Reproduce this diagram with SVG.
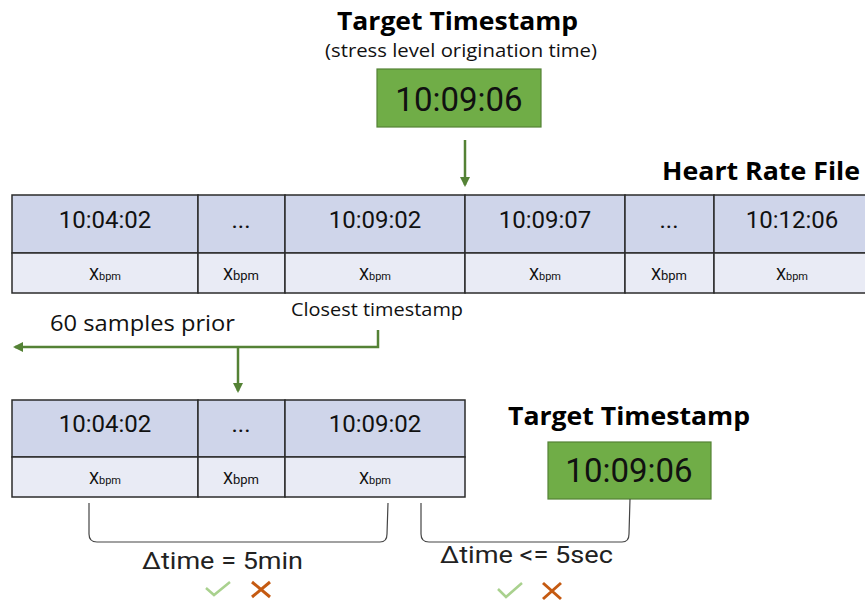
<svg xmlns="http://www.w3.org/2000/svg" width="865" height="605" viewBox="0 0 865 605">
<style>
.hdr{font-family:"Open Sans","Liberation Sans",sans-serif;font-weight:bold;font-size:25px;fill:#000}
.cal{font-family:"Open Sans","Liberation Sans",sans-serif;fill:#111}
.ts{font-family:Roboto,"Liberation Sans",sans-serif;font-size:24px;fill:#111;text-anchor:middle}
.big{font-family:Roboto,"Liberation Sans",sans-serif;font-size:33px;fill:#111;text-anchor:middle}
.x{font-family:Roboto,"Liberation Sans",sans-serif;font-size:16px;fill:#111;text-anchor:middle}
.xs{font-size:11px}
.top{fill:#CFD5EA;stroke:#2b2b2b;stroke-width:1.5}
.bot{fill:#E9EBF5;stroke:#2b2b2b;stroke-width:1.5}
.gbox{fill:#70AD47;stroke:#548235;stroke-width:1.2}
.conn{fill:none;stroke:#548235;stroke-width:2.5}
.br{fill:none;stroke:#444;stroke-width:1.2}
.dt{font-family:Roboto,"Liberation Sans",sans-serif;font-size:24px;fill:#222}
.ok{fill:none;stroke:#A9D18E;stroke-width:2.5}
.no{fill:none;stroke:#C55A11;stroke-width:3}
</style>
<defs>
<marker id="ah" viewBox="0 0 10 10" refX="8" refY="5" markerWidth="4" markerHeight="4" orient="auto-start-reverse" markerUnits="strokeWidth">
<path d="M0,0 L10,5 L0,10 z" fill="#548235"/>
</marker>
</defs>
<rect width="865" height="605" fill="#fff"/>

<g id="target-top">
<text class="hdr" x="337" y="30" textLength="241" lengthAdjust="spacingAndGlyphs">Target Timestamp</text>
<text class="cal" x="325" y="57" font-size="18.5" textLength="272" lengthAdjust="spacingAndGlyphs">(stress level origination time)</text>
<rect class="gbox" x="377" y="69" width="164" height="58"/>
<text class="big" x="459" y="111">10:09:06</text>
</g>

<g id="heart-rate-file">
<text class="hdr" x="662" y="180" textLength="198" lengthAdjust="spacingAndGlyphs">Heart Rate File</text>
<rect class="top" x="12" y="195" width="186" height="58"/>
<rect class="top" x="198" y="195" width="87" height="58"/>
<rect class="top" x="285" y="195" width="180" height="58"/>
<rect class="top" x="465" y="195" width="160" height="58"/>
<rect class="top" x="625" y="195" width="89" height="58"/>
<rect class="top" x="714" y="195" width="155" height="58"/>
<rect class="bot" x="12" y="253" width="186" height="40"/>
<rect class="bot" x="198" y="253" width="87" height="40"/>
<rect class="bot" x="285" y="253" width="180" height="40"/>
<rect class="bot" x="465" y="253" width="160" height="40"/>
<rect class="bot" x="625" y="253" width="89" height="40"/>
<rect class="bot" x="714" y="253" width="155" height="40"/>
<text class="ts" x="105" y="228">10:04:02</text>
<text class="ts" x="241" y="228">...</text>
<text class="ts" x="375" y="228">10:09:02</text>
<text class="ts" x="545" y="228">10:09:07</text>
<text class="ts" x="669" y="228">...</text>
<text class="ts" x="792" y="228">10:12:06</text>
<text class="x" x="105" y="280">X<tspan class="xs">bpm</tspan></text>
<text class="x" x="241" y="280" font-size="17">X<tspan font-size="13">bpm</tspan></text>
<text class="x" x="375" y="280">X<tspan class="xs">bpm</tspan></text>
<text class="x" x="545" y="280">X<tspan class="xs">bpm</tspan></text>
<text class="x" x="669" y="280" font-size="17">X<tspan font-size="13">bpm</tspan></text>
<text class="x" x="792" y="280">X<tspan class="xs">bpm</tspan></text>
</g>

<g id="labels">
<text class="cal" x="291" y="316" font-size="17.5" textLength="172" lengthAdjust="spacingAndGlyphs">Closest timestamp</text>
<text class="cal" x="50" y="331" font-size="21" textLength="185" lengthAdjust="spacingAndGlyphs">60 samples prior</text>
</g>

<g id="window-table">
<rect class="top" x="12" y="400" width="186" height="57"/>
<rect class="top" x="198" y="400" width="87" height="57"/>
<rect class="top" x="285" y="400" width="180" height="57"/>
<rect class="bot" x="12" y="457" width="186" height="40"/>
<rect class="bot" x="198" y="457" width="87" height="40"/>
<rect class="bot" x="285" y="457" width="180" height="40"/>
<text class="ts" x="105" y="432">10:04:02</text>
<text class="ts" x="241" y="432">...</text>
<text class="ts" x="375" y="432">10:09:02</text>
<text class="x" x="105" y="484">X<tspan class="xs">bpm</tspan></text>
<text class="x" x="241" y="484" font-size="17">X<tspan font-size="13">bpm</tspan></text>
<text class="x" x="375" y="484">X<tspan class="xs">bpm</tspan></text>
</g>

<g id="target-bottom">
<text class="hdr" x="508" y="425" textLength="242" lengthAdjust="spacingAndGlyphs">Target Timestamp</text>
<rect class="gbox" x="548" y="442" width="163" height="57"/>
<text class="big" x="629" y="482">10:09:06</text>
</g>

<g id="connectors">
<path class="conn" d="M465,140 L465,185" marker-end="url(#ah)"/>
<path class="conn" d="M378,330 L378,347 L15,347" marker-end="url(#ah)"/>
<path class="conn" d="M238,347 L238,391" marker-end="url(#ah)"/>
</g>

<g id="brackets">
<path class="br" d="M89,503 L89,534 Q89,542 97,542 L380,542 Q387,542 387,534 L388,503"/>
<path class="br" d="M421,503 L421,534 Q421,542 429,542 L622,542 Q629,542 629,534 L630,499"/>
<text class="dt" x="142" y="569" textLength="161" lengthAdjust="spacingAndGlyphs">Δtime = 5min</text>
<text class="dt" x="440" y="563" textLength="173" lengthAdjust="spacingAndGlyphs">Δtime &lt;= 5sec</text>
<polyline class="ok" points="206,588 214,595 230,582"/>
<path class="no" d="M252,582 L270,597 M270,582 L252,597"/>
<polyline class="ok" points="498,589 506,597 522,583"/>
<path class="no" d="M543,583 L561,599 M561,583 L543,599"/>
</g>
</svg>
